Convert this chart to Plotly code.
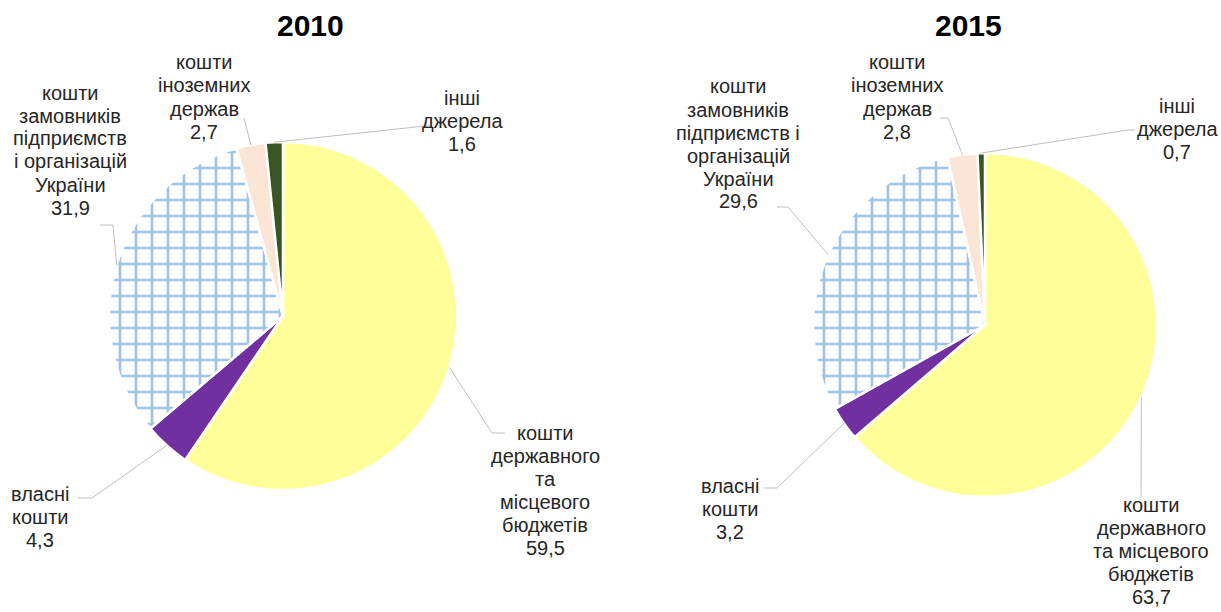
import math
import plotly.graph_objects as go

# ---------------- data ----------------
categories = [
    "кошти<br>державного<br>та<br>місцевого<br>бюджетів",
    "власні<br>кошти",
    "кошти<br>замовників<br>підприємств<br>і організацій<br>України",
    "кошти<br>іноземних<br>держав",
    "інші<br>джерела",
]
categories_2015 = [
    "кошти<br>державного<br>та місцевого<br>бюджетів",
    "власні<br>кошти",
    "кошти<br>замовників<br>підприємств і<br>організацій<br>України",
    "кошти<br>іноземних<br>держав",
    "інші<br>джерела",
]
values_2010 = [59.5, 4.3, 31.9, 2.7, 1.6]
values_2015 = [63.7, 3.2, 29.6, 2.8, 0.7]
titles = ["2010", "2015"]

# ---------------- styles / layout ----------------
W, H = 1221, 612
colors = ["#FFFF99", "#7030A0", "#FFFFFF", "#FBE5D6", "#375623"]
shapes_pat = ["", "", "+", "", ""]
LEADER = "#BFBFBF"
TXT = "#262626"
FONT = "Liberation Sans, Arial, sans-serif"
FS = 20
LINE_H = 23

pies = [
    dict(cx=283, cy=316, r=174, title_x=310,
         labels=categories, values=values_2010,
         lab=[(545, 490), (40, 517), (70, 150), (204, 97), (462, 121)],
         elbow=[[(492, 433), (505, 433)], [(92, 498), (78, 498)],
                [(113, 225), (100, 225)], [(244, 118)], [(425, 126), (432, 126)]]),
    dict(cx=985, cy=325, r=172, title_x=968,
         labels=categories_2015, values=values_2015,
         lab=[(1151, 551), (730, 509), (738, 144), (897, 97), (1177, 129)],
         elbow=[[(1141, 498)], [(777, 488), (764, 488)],
                [(788, 207), (777, 207)], [(948, 118), (940, 118)], [(1128, 130), (1135, 130)]]),
]


def px(x):
    return x / W


def py(y):
    return 1 - y / H


fig = go.Figure()
annotations = []
shapes = []
for i, p in enumerate(pies):
    cx, cy, r = p["cx"], p["cy"], p["r"]
    fig.add_trace(go.Pie(
        values=p["values"], labels=[l.replace("<br>", " ") for l in p["labels"]],
        sort=False, direction="clockwise", rotation=0,
        textinfo="none", hoverinfo="label+value", showlegend=False,
        marker=dict(colors=colors, line=dict(color="white", width=2.5),
                    pattern=dict(shape=shapes_pat, fgcolor="#9DC3E6",
                                 size=16, solidity=0.3)),
        domain=dict(x=[px(cx - r), px(cx + r)], y=[py(cy + r), py(cy - r)]),
    ))
    annotations.append(dict(text="<b>%s</b>" % titles[i], x=px(p["title_x"]), y=py(26),
                            xref="paper", yref="paper", showarrow=False,
                            xanchor="center", yanchor="middle",
                            font=dict(size=30, color="black", family=FONT)))
    total = sum(p["values"])
    cum = 0
    for j, v in enumerate(p["values"]):
        mid = (cum + v / 2) / total * 2 * math.pi
        cum += v
        ex = cx + r * math.sin(mid)
        ey = cy - r * math.cos(mid)
        pts = [(ex, ey)] + p["elbow"][j]
        path = "M %f %f " % (px(pts[0][0]), py(pts[0][1])) + " ".join(
            "L %f %f" % (px(a), py(b)) for a, b in pts[1:])
        shapes.append(dict(type="path", path=path, xref="paper", yref="paper",
                           line=dict(color=LEADER, width=1)))
        lx, ly = p["lab"][j]
        lines = p["labels"][j].split("<br>") + [("%.1f" % v).replace(".", ",")]
        n = len(lines)
        for k, line in enumerate(lines):
            yy = ly + (k - (n - 1) / 2) * LINE_H
            annotations.append(dict(text=line, x=px(lx), y=py(yy), xref="paper", yref="paper",
                                    xanchor="center", yanchor="middle", showarrow=False,
                                    font=dict(size=FS, color=TXT, family=FONT)))

fig.update_layout(width=W, height=H, margin=dict(l=0, r=0, t=0, b=0),
                  paper_bgcolor="white", plot_bgcolor="white",
                  annotations=annotations, shapes=shapes)
fig.write_html("out.html", config={"displayModeBar": False},
               post_script="document.body.style.margin='0px';")
